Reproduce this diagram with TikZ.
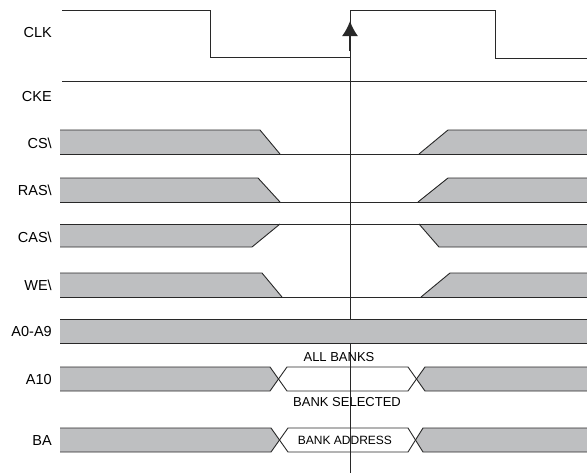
\documentclass[tikz,border=0pt]{standalone}
\usepackage{fontspec}
\setmainfont{Liberation Sans}
\usetikzlibrary{arrows.meta}
\definecolor{busgray}{RGB}{190,191,193}
\definecolor{wire}{RGB}{40,40,40}

\begin{document}
\begin{tikzpicture}[x=1pt,y=-1pt,inner sep=.8pt,line width=.9pt,draw=wire,>={Latex[length=15pt,width=16pt]}]
\useasboundingbox (0,0) rectangle (587,475);
% signal names
\draw node [anchor=east,font=\fontsize{14.5}{16}\selectfont] (CLK) at (53,33)  {CLK};
\draw node [anchor=east,font=\fontsize{14.5}{16}\selectfont] (CKE) at (53,97)  {CKE};
\draw node [anchor=east,font=\fontsize{14.5}{16}\selectfont] (CS)  at (53,143) {CS\textbackslash};
\draw node [anchor=east,font=\fontsize{14.5}{16}\selectfont] (RAS) at (53,190) {RAS\textbackslash};
\draw node [anchor=east,font=\fontsize{14.5}{16}\selectfont] (CAS) at (53,237) {CAS\textbackslash};
\draw node [anchor=east,font=\fontsize{14.5}{16}\selectfont] (WE)  at (53,285) {WE\textbackslash};
\draw node [anchor=east,font=\fontsize{14.5}{16}\selectfont] (A09) at (53,332) {A0-A9};
\draw node [anchor=east,font=\fontsize{14.5}{16}\selectfont] (A10) at (53,380) {A10};
\draw node [anchor=east,font=\fontsize{14.5}{16}\selectfont] (BA)  at (53,441) {BA};

% clock and the edge marker
\draw [wire] (62,10) -- (210,10) -- (210,57) -- (350,57) -- (350,10) -- (495,10) -- (495,58) -- (587,58);
\draw [wire] (350,57) -- (350,473);
\coordinate (edgelow) at (350,51);
\coordinate (edgetip) at (350,21);
\draw [wire,line width=1.6pt,->] (edgelow) -- (edgetip);
\draw [wire] (62,81) -- (587,81);

% CS
\fill [busgray] (60,130) -- (260,130) -- (280,154) -- (60,154) -- cycle;
\fill [busgray] (587,130) -- (448,130) -- (419,154) -- (587,154) -- cycle;
\draw [wire] (60,130) -- (260,130) -- (280,154);
\draw [wire] (60,154) -- (587,154);
\draw [wire] (419,154) -- (448,130) -- (587,130);
% RAS
\fill [busgray] (60,178) -- (258,178) -- (280,202) -- (60,202) -- cycle;
\fill [busgray] (587,178) -- (448,178) -- (418,202) -- (587,202) -- cycle;
\draw [wire] (60,178) -- (258,178) -- (280,202);
\draw [wire] (60,202) -- (587,202);
\draw [wire] (418,202) -- (448,178) -- (587,178);
% CAS
\fill [busgray] (60,224) -- (280,224) -- (252,247) -- (60,247) -- cycle;
\fill [busgray] (587,224) -- (419,224) -- (439,247) -- (587,247) -- cycle;
\draw [wire] (60,224) -- (587,224);
\draw [wire] (60,247) -- (252,247) -- (280,224);
\draw [wire] (419,224) -- (439,247) -- (587,247);
% WE
\fill [busgray] (60,273) -- (262,273) -- (282,297) -- (60,297) -- cycle;
\fill [busgray] (587,273) -- (450,273) -- (421,297) -- (587,297) -- cycle;
\draw [wire] (60,273) -- (262,273) -- (282,297);
\draw [wire] (60,297) -- (587,297);
\draw [wire] (421,297) -- (450,273) -- (587,273);
% A0-A9
\fill [busgray] (60,319) rectangle (587,343);
\draw [wire] (60,319) -- (587,319);
\draw [wire] (60,343) -- (587,343);
% A10
\fill [busgray] (60,367) -- (270,367) -- (278.5,379) -- (270,391) -- (60,391) -- cycle;
\fill [busgray] (587,367) -- (425,367) -- (416.5,379) -- (425,391) -- (587,391) -- cycle;
\draw [wire] (60,367) -- (270,367) -- (287,391) -- (408,391) -- (425,367) -- (587,367);
\draw [wire] (60,391) -- (270,391) -- (287,367) -- (408,367) -- (425,391) -- (587,391);
% BA
\fill [busgray] (60,428) -- (271,428) -- (279.5,440) -- (271,452) -- (60,452) -- cycle;
\fill [busgray] (587,428) -- (423,428) -- (415.5,440) -- (423,452) -- (587,452) -- cycle;
\draw [wire] (60,428) -- (271,428) -- (288,452) -- (408,452) -- (423,428) -- (587,428);
\draw [wire] (60,452) -- (271,452) -- (288,428) -- (408,428) -- (423,452) -- (587,452);

% bus values
\draw node [font=\fontsize{13}{15}\selectfont] (allbanks) at (339,357) {ALL BANKS};
\draw node [font=\fontsize{13}{15}\selectfont] (banksel)  at (347,402) {BANK SELECTED};
\draw node [font=\fontsize{12}{14}\selectfont] (bankaddr) at (345,440) {BANK ADDRESS};
\end{tikzpicture}
\end{document}
